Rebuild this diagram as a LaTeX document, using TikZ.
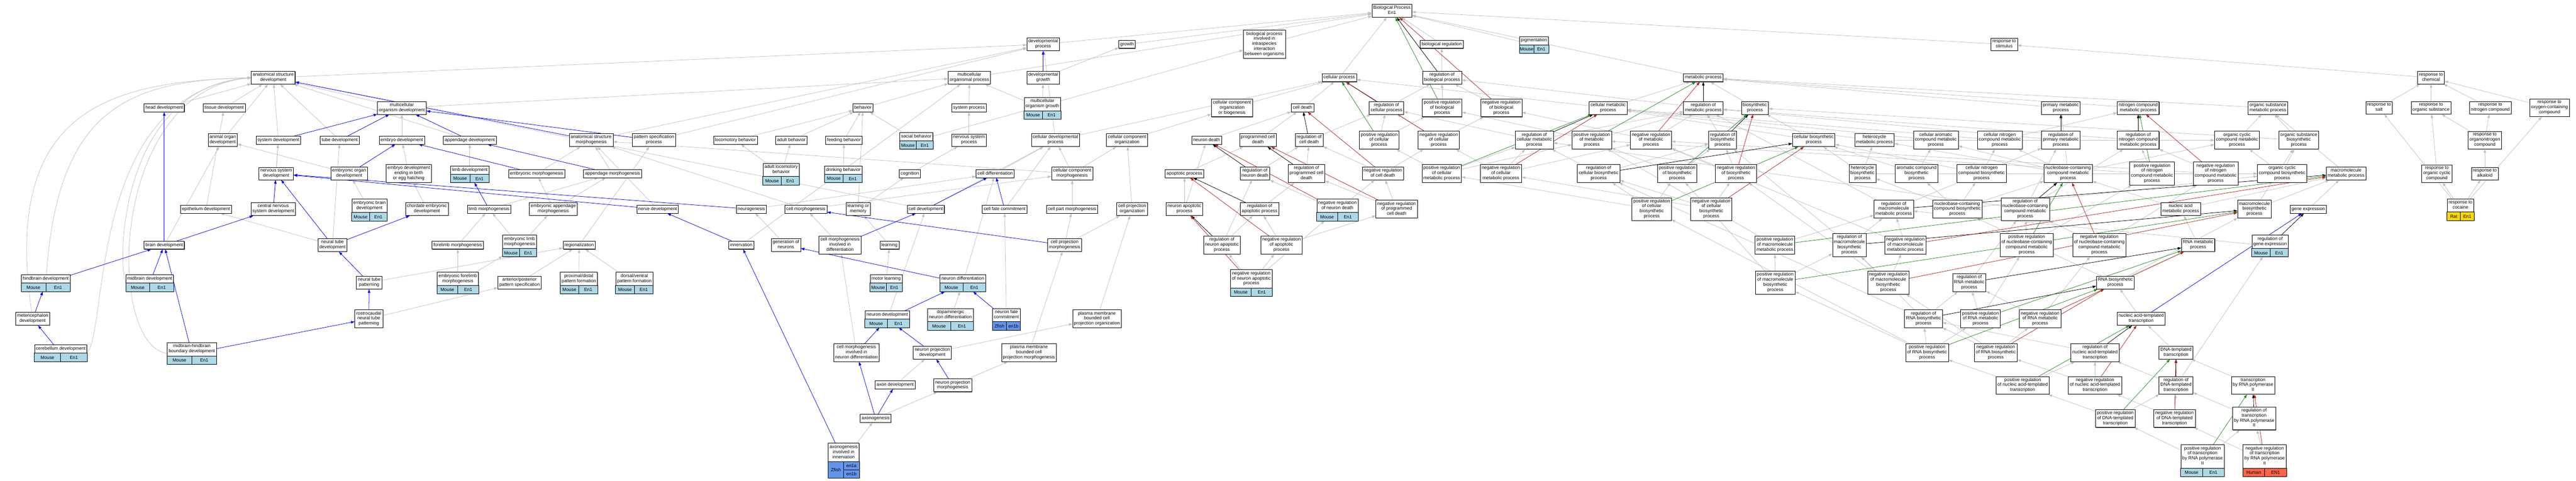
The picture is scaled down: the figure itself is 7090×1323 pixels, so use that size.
\documentclass[tikz,border=0pt]{standalone}
\usepackage{fontspec}
\setmainfont{Liberation Sans}
\usetikzlibrary{arrows.meta,shapes.multipart,shadows,calc}
\pgfdeclarelayer{background}
\pgfsetlayers{background,main}

\definecolor{isagray}{HTML}{C0C0C0}
\definecolor{mouseblue}{HTML}{ADD8E6}
\definecolor{fishblue}{HTML}{6495ED}
\definecolor{humanred}{HTML}{FF6347}
\definecolor{ratgold}{HTML}{FFD700}
\definecolor{posgreen}{HTML}{228B22}
\definecolor{negred}{HTML}{B22222}

\tikzset{
  term/.style={draw=black, fill=white, line width=1pt, align=center,
    font=\fontsize{12.5}{14}\selectfont, inner xsep=4pt, inner ysep=4pt,
    execute at begin node=\strut, execute at end node=\strut,
    drop shadow={shadow xshift=1pt, shadow yshift=-1.2pt, fill=black!65, opacity=1}},
  gterm/.style={term, rectangle split, rectangle split parts=2, anchor=north},
  generow/.style={draw=black, line width=1pt},
  genelabel/.style={font=\fontsize{12.5}{14}\selectfont, inner sep=0pt},
  isa/.style={color=isagray, line width=1.1pt, -{Triangle[length=10pt,width=7pt]}},
  partof/.style={isa, color=blue},
  reg/.style={isa, color=black},
  posreg/.style={isa, color=posgreen},
  negreg/.style={isa, color=negred}
}

\newcommand{\gene}[4][mouseblue]{%
  \filldraw[generow, fill=#1] (#2.text split west) rectangle (#2.south east);
  \draw[generow] (#2.text split) -- (#2.south);
  \node[genelabel] (#2-sp) at ($(#2.south west)!0.25!(#2.south east)+(0,-11)$) {#3};
  \node[genelabel] (#2-gn) at ($(#2.south west)!0.75!(#2.south east)+(0,-11)$) {#4};
}

\begin{document}
\begin{tikzpicture}[x=1pt,y=-1pt]
\useasboundingbox (0,0) rectangle (7090,1323);

\node[term] (root) at (3831,30) {Biological Process\\En1};
\node[term] (devproc) at (2871,122) {developmental\\process};
\node[term] (growth) at (3102,122) {growth};
\node[term] (bpintra) at (3480,122) {biological process\\involved in\\intraspecies\\interaction\\between organisms};
\node[term] (bioreg) at (3968,122) {biological regulation};
\node[gterm] (pigmentation) at (4222,100) {pigmentation\strut\nodepart{two}};
\gene{pigmentation}{Mouse}{En1}
\node[term] (respstim) at (5516,122) {response to\\stimulus};

\node[term] (astdev) at (752,214) {anatomical structure\\development};
\node[term] (mop) at (2668,214) {multicellular\\organismal process};
\node[term] (devgrowth) at (2871,214) {developmental\\growth};
\node[term] (cellproc) at (3686,214) {cellular process};
\node[term] (regbio) at (3969,214) {regulation of\\biological process};
\node[term] (metab) at (4688,214) {metabolic process};
\node[term] (respchem) at (6691,214) {response to\\chemical};

\node[term] (headdev) at (452,297) {head development};
\node[term] (tissuedev) at (617,297) {tissue development};
\node[term] (multidev) at (1106,297) {multicellular\\organism development};
\node[term] (behavior) at (2375,297) {behavior};
\node[term] (sysproc) at (2667,297) {system process};
\node[gterm] (mogrowth) at (2869,268) {multicellular\\organism growth\strut\nodepart{two}};
\gene{mogrowth}{Mouse}{En1}
\node[term] (ccob) at (3391,297) {cellular component\\organization\\or biogenesis};
\node[term] (celldeath) at (3585,297) {cell death};
\node[term] (regcellproc) at (3816,297) {regulation of\\cellular process};
\node[term] (posregbio) at (3969,297) {positive regulation\\of biological\\process};
\node[term] (negregbio) at (4132,297) {negative regulation\\of biological\\process};
\node[term] (cellmetab) at (4426,297) {cellular metabolic\\process};
\node[term] (regmetab) at (4688,297) {regulation of\\metabolic process};
\node[term] (biosyn) at (4830,297) {biosynthetic\\process};
\node[term] (primmetab) at (5672,297) {primary metabolic\\process};
\node[term] (nitrogenmetab) at (5885,297) {nitrogen compound\\metabolic process};
\node[term] (orgsubmet) at (6242,297) {organic substance\\metabolic process};
\node[term] (respsalt) at (6548,297) {response to\\salt};
\node[term] (resporgsub) at (6691,297) {response to\\organic substance};
\node[term] (respnitro) at (6854,297) {response to\\nitrogen compound};
\node[term] (respoxy) at (7017,297) {response to\\oxygen-containing\\compound};

\node[term] (animalorgan) at (613,386) {animal organ\\development};
\node[term] (sysdev) at (766,386) {system development};
\node[term] (tubedev) at (935,386) {tube development};
\node[term] (embryodev) at (1106,386) {embryo development};
\node[term] (appdev) at (1293,386) {appendage development};
\node[term] (asmorph) at (1627,386) {anatomical structure\\morphogenesis};
\node[term] (patspec) at (1800,386) {pattern specification\\process};
\node[term] (locomotory) at (2024,386) {locomotory behavior};
\node[term] (adultbeh) at (2178,386) {adult behavior};
\node[term] (feeding) at (2323,386) {feeding behavior};
\node[gterm] (socialbeh) at (2522,364) {social behavior\strut\nodepart{two}};
\gene{socialbeh}{Mouse}{En1}
\node[term] (nsproc) at (2667,386) {nervous system\\process};
\node[term] (celldevproc) at (2905,386) {cellular developmental\\process};
\node[term] (ccorg) at (3102,386) {cellular component\\organization};
\node[term] (neurondeath) at (3321,386) {neuron death};
\node[term] (pcd) at (3462,386) {programmed cell\\death};
\node[term] (regcelldeath) at (3603,386) {regulation of\\cell death};
\node[term] (posregcellproc) at (3796,386) {positive regulation\\of cellular\\process};
\node[term] (negregcellproc) at (3960,386) {negative regulation\\of cellular\\process};
\node[term] (regcellmetab) at (4223,386) {regulation of\\cellular metabolic\\process};
\node[term] (posregmetab) at (4381,386) {positive regulation\\of metabolic\\process};
\node[term] (negregmetab) at (4544,386) {negative regulation\\of metabolic\\process};
\node[term] (regbiosyn) at (4741,386) {regulation of\\biosynthetic\\process};
\node[term] (cellbiosyn) at (4992,386) {cellular biosynthetic\\process};
\node[term] (heteromet) at (5159,386) {heterocycle\\metabolic process};
\node[term] (cellarom) at (5328,386) {cellular aromatic\\compound metabolic\\process};
\node[term] (cellnitro) at (5504,386) {cellular nitrogen\\compound metabolic\\process};
\node[term] (regprim) at (5672,386) {regulation of\\primary metabolic\\process};
\node[term] (regnitro) at (5885,386) {regulation of\\nitrogen compound\\metabolic process};
\node[term] (orgcycmet) at (6157,386) {organic cyclic\\compound metabolic\\process};
\node[term] (orgsubbiosyn) at (6327,386) {organic substance\\biosynthetic\\process};
\node[term] (resporganonitro) at (6839,386) {response to\\organonitrogen\\compound};

\node[term] (nsdev) at (760,478) {nervous system\\development};
\node[term] (embryonicorgan) at (961,478) {embryonic organ\\development};
\node[term] (embryobirth) at (1125,478) {embryo development\\ending in birth\\or egg hatching};
\node[gterm] (limbdev) at (1293,456) {limb development\strut\nodepart{two}};
\gene{limbdev}{Mouse}{En1}
\node[term] (embmorph) at (1477,478) {embryonic morphogenesis};
\node[term] (appmorph) at (1686,478) {appendage morphogenesis};
\node[gterm] (adultloco) at (2150,449) {adult locomotory\\behavior\strut\nodepart{two}};
\gene{adultloco}{Mouse}{En1}
\node[gterm] (drinking) at (2321,456) {drinking behavior\strut\nodepart{two}};
\gene{drinking}{Mouse}{En1}
\node[term] (cognition) at (2504,478) {cognition};
\node[term] (celldiff) at (2739,478) {cell differentiation};
\node[term] (ccmorph) at (2951,478) {cellular component\\morphogenesis};
\node[term] (apoptotic) at (3260,478) {apoptotic process};
\node[term] (regneurondeath) at (3454,478) {regulation of\\neuron death};
\node[term] (regpcd) at (3596,478) {regulation of\\programmed cell\\death};
\node[term] (negregcelldeath) at (3806,478) {negative regulation\\of cell death};
\node[term] (posregcellmetab) at (3968,478) {positive regulation\\of cellular\\metabolic process};
\node[term] (negregcellmetab) at (4131,478) {negative regulation\\of cellular\\metabolic process};
\node[term] (regcellbiosyn) at (4400,478) {regulation of\\cellular biosynthetic\\process};
\node[term] (posregbiosyn) at (4616,478) {positive regulation\\of biosynthetic\\process};
\node[term] (negregbiosyn) at (4778,478) {negative regulation\\of biosynthetic\\process};
\node[term] (heterobiosyn) at (5126,478) {heterocycle\\biosynthetic\\process};
\node[term] (arombiosyn) at (5275,478) {aromatic compound\\biosynthetic\\process};
\node[term] (cellnitrobiosyn) at (5454,478) {cellular nitrogen\\compound biosynthetic\\process};
\node[term] (nucmetab) at (5692,478) {nucleobase-containing\\compound metabolic\\process};
\node[term] (posregnitro) at (5923,478) {positive regulation\\of nitrogen\\compound metabolic\\process};
\node[term] (negregnitro) at (6098,478) {negative regulation\\of nitrogen\\compound metabolic\\process};
\node[term] (orgcycbiosyn) at (6281,478) {organic cyclic\\compound biosynthetic\\process};
\node[term] (macromet) at (6457,478) {macromolecule\\metabolic process};
\node[term] (resporgcyc) at (6707,478) {response to\\organic cyclic\\compound};
\node[term] (respalkaloid) at (6839,478) {response to\\alkaloid};

\node[term] (epithdev) at (567,576) {epithelium development};
\node[term] (cnsdev) at (752,576) {central nervous\\system development};
\node[gterm] (embbrain) at (1017,548) {embryonic brain\\development\strut\nodepart{two}};
\gene{embbrain}{Mouse}{En1}
\node[term] (chordate) at (1175,576) {chordate embryonic\\development};
\node[term] (limbmorph) at (1346,576) {limb morphogenesis};
\node[term] (embappmorph) at (1523,576) {embryonic appendage\\morphogenesis};
\node[term] (nervedev) at (1810,576) {nerve development};
\node[term] (neurogenesis) at (2068,576) {neurogenesis};
\node[term] (cellmorph) at (2218,576) {cell morphogenesis};
\node[term] (learnmem) at (2362,576) {learning or\\memory};
\node[term] (celldev) at (2548,576) {cell development};
\node[term] (cellfate) at (2765,576) {cell fate commitment};
\node[term] (cellpartmorph) at (2951,576) {cell part morphogenesis};
\node[term] (cellprojorg) at (3116,576) {cell projection\\organization};
\node[term] (neuronapop) at (3260,576) {neuron apoptotic\\process};
\node[term] (regapop) at (3467,576) {regulation of\\apoptotic process};
\node[gterm] (negregneurondeath) at (3681,548) {negative regulation\\of neuron death\strut\nodepart{two}};
\gene{negregneurondeath}{Mouse}{En1}
\node[term] (negregpcd) at (3844,576) {negative regulation\\of programmed\\cell death};
\node[term] (posregcellbiosyn) at (4546,576) {positive regulation\\of cellular\\biosynthetic\\process};
\node[term] (negregcellbiosyn) at (4710,576) {negative regulation\\of cellular\\biosynthetic\\process};
\node[term] (regmacromet) at (5212,576) {regulation of\\macromolecule\\metabolic process};
\node[term] (nucbiosyn) at (5387,576) {nucleobase-containing\\compound biosynthetic\\process};
\node[term] (regnucmet) at (5574,576) {regulation of\\nucleobase-containing\\compound metabolic\\process};
\node[term] (nucacidmet) at (6002,576) {nucleic acid\\metabolic process};
\node[term] (macrobiosyn) at (6205,576) {macromolecule\\biosynthetic\\process};
\node[term] (geneexpr) at (6353,576) {gene expression};
\node[gterm] (respcocaine) at (6772,548) {response to\\cocaine\strut\nodepart{two}};
\gene[ratgold]{respcocaine}{Rat}{En1}

\node[term] (braindev) at (452,675) {brain development};
\node[term] (neuraltubedev) at (915,675) {neural tube\\development};
\node[term] (forelimb) at (1260,675) {forelimb morphogenesis};
\node[gterm] (emblimbmorph) at (1430,647) {embryonic limb\\morphogenesis\strut\nodepart{two}};
\gene{emblimbmorph}{Mouse}{En1}
\node[term] (regionalization) at (1594,675) {regionalization};
\node[term] (innervation) at (2040,675) {innervation};
\node[term] (genneurons) at (2163,675) {generation of\\neurons};
\node[term] (cellmorphdiff) at (2312,675) {cell morphogenesis\\involved in\\differentiation};
\node[term] (learning) at (2448,675) {learning};
\node[term] (cellprojmorph) at (2930,675) {cell projection\\morphogenesis};
\node[term] (regneuronapop) at (3363,675) {regulation of\\neuron apoptotic\\process};
\node[term] (negregapop) at (3527,675) {negative regulation\\of apoptotic\\process};
\node[term] (posregmacromet) at (4885,675) {positive regulation\\of macromolecule\\metabolic process};
\node[term] (regmacrobiosyn) at (5090,675) {regulation of\\macromolecule\\biosynthetic\\process};
\node[term] (negregmacromet) at (5244,675) {negative regulation\\of macromolecule\\metabolic process};
\node[term] (posregnucmet) at (5578,675) {positive regulation\\of nucleobase-containing\\compound metabolic\\process};
\node[term] (negregnucmet) at (5778,675) {negative regulation\\of nucleobase-containing\\compound metabolic\\process};
\node[term] (rnamet) at (6050,675) {RNA metabolic\\process};
\node[gterm] (reggeneexpr) at (6248,647) {regulation of\\gene expression\strut\nodepart{two}};
\gene{reggeneexpr}{Mouse}{En1}

\node[gterm] (hindbrain) at (126,756) {hindbrain development\strut\nodepart{two}};
\gene{hindbrain}{Mouse}{En1}
\node[gterm] (midbrain) at (412,756) {midbrain development\strut\nodepart{two}};
\gene{midbrain}{Mouse}{En1}
\node[term] (ntpattern) at (1016,778) {neural tube\\patterning};
\node[gterm] (embforelimb) at (1260,749) {embryonic forelimb\\morphogenesis\strut\nodepart{two}};
\gene{embforelimb}{Mouse}{En1}
\node[term] (apspec) at (1430,778) {anterior/posterior\\pattern specification};
\node[gterm] (proxdist) at (1593,749) {proximal/distal\\pattern formation\strut\nodepart{two}};
\gene{proxdist}{Mouse}{En1}
\node[gterm] (dorsvent) at (1746,749) {dorsal/ventral\\pattern formation\strut\nodepart{two}};
\gene{dorsvent}{Mouse}{En1}
\node[gterm] (motorlearning) at (2439,756) {motor learning\strut\nodepart{two}};
\gene{motorlearning}{Mouse}{En1}
\node[gterm] (neurondiff) at (2650,756) {neuron differentiation\strut\nodepart{two}};
\gene{neurondiff}{Mouse}{En1}
\node[gterm] (negregneuronapop) at (3444,742) {negative regulation\\of neuron apoptotic\\process\strut\nodepart{two}};
\gene{negregneuronapop}{Mouse}{En1}
\node[term] (posregmacrobiosyn) at (4886,778) {positive regulation\\of macromolecule\\biosynthetic\\process};
\node[term] (negregmacrobiosyn) at (5197,778) {negative regulation\\of macromolecule\\biosynthetic\\process};
\node[term] (regrnamet) at (5420,778) {regulation of\\RNA metabolic\\process};
\node[term] (rnabiosyn) at (5822,778) {RNA biosynthetic\\process};

\node[term] (metenceph) at (90,878) {metencephalon\\development};
\node[term] (rostro) at (1015,878) {rostrocaudal\\neural tube\\patterning};
\node[gterm] (dopamin) at (2616,849) {dopaminergic\\neuron differentiation\strut\nodepart{two}};
\gene{dopamin}{Mouse}{En1}
\node[gterm] (neuronfate) at (2770,849) {neuron fate\\commitment\strut\nodepart{two}};
\gene[fishblue]{neuronfate}{Zfish}{en1b}
\node[gterm] (neurondev) at (2442,855) {neuron development\strut\nodepart{two}};
\gene{neurondev}{Mouse}{En1}
\node[term] (pmbcpo) at (3019,878) {plasma membrane\\bounded cell\\projection organization};
\node[term] (regrnabiosyn) at (5294,878) {regulation of\\RNA biosynthetic\\process};
\node[term] (posregrnamet) at (5451,878) {positive regulation\\of RNA metabolic\\process};
\node[term] (negregrnamet) at (5615,878) {negative regulation\\of RNA metabolic\\process};
\node[term] (nuctrans) at (5893,878) {nucleic acid-templated\\transcription};

\node[gterm] (cerebellum) at (167,949) {cerebellum development\strut\nodepart{two}};
\gene{cerebellum}{Mouse}{En1}
\node[gterm] (mhb) at (528,943) {midbrain-hindbrain\\boundary development\strut\nodepart{two}};
\gene{mhb}{Mouse}{En1}
\node[term] (cmneurondiff) at (2357,971) {cell morphogenesis\\involved in\\neuron differentiation};
\node[term] (neuronprojdev) at (2566,971) {neuron projection\\development};
\node[term] (pmbcpm) at (2832,971) {plasma membrane\\bounded cell\\projection morphogenesis};
\node[term] (posregrnabiosyn) at (5304,971) {positive regulation\\of RNA biosynthetic\\process};
\node[term] (negregrnabiosyn) at (5493,971) {negative regulation\\of RNA biosynthetic\\process};
\node[term] (regnuctrans) at (5766,971) {regulation of\\nucleic acid-templated\\transcription};
\node[term] (dnatrans) at (5989,971) {DNA-templated\\transcription};

\node[term] (axondev) at (2464,1060) {axon development};
\node[term] (neuronprojmorph) at (2622,1061) {neuron projection\\morphogenesis};
\node[term] (posregnuctrans) at (5567,1061) {positive regulation\\of nucleic acid-templated\\transcription};
\node[term] (negregnuctrans) at (5766,1061) {negative regulation\\of nucleic acid-templated\\transcription};
\node[term] (regdnatrans) at (5989,1061) {regulation of\\DNA-templated\\transcription};
\node[term] (transpol2) at (6201,1061) {transcription\\by RNA polymerase\\II};

\node[term] (axonogenesis) at (2410,1152) {axonogenesis};
\node[term] (posregdnatrans) at (5822,1152) {positive regulation\\of DNA-templated\\transcription};
\node[term] (negregdnatrans) at (5985,1152) {negative regulation\\of DNA-templated\\transcription};
\node[term] (regtranspol2) at (6204,1152) {regulation of\\transcription\\by RNA polymerase\\II};

\node[gterm] (axoninnerv) at (2322,1220) {axonogenesis\\involved in\\innervation\strut\nodepart{two}\rule[-4.2pt]{0pt}{36pt}};
\filldraw[generow, fill=fishblue] (axoninnerv.text split west) rectangle (axoninnerv.south east);
\draw[generow] (axoninnerv.text split) -- (axoninnerv.south);
\draw[generow] ($(axoninnerv.south)+(0,-22)$) -- ($(axoninnerv.south east)+(0,-22)$);
\node[genelabel] (axoninnerv-sp) at ($(axoninnerv.south west)!0.25!(axoninnerv.south east)+(0,-22)$) {Zfish};
\node[genelabel] (axoninnerv-ga) at ($(axoninnerv.south west)!0.75!(axoninnerv.south east)+(0,-33)$) {en1a};
\node[genelabel] (axoninnerv-gb) at ($(axoninnerv.south west)!0.75!(axoninnerv.south east)+(0,-11)$) {en1b};
\node[gterm] (posregtranspol2) at (6062,1224) {positive regulation\\of transcription\\by RNA polymerase\\II\strut\nodepart{two}};
\gene{posregtranspol2}{Mouse}{En1}
\node[gterm] (negregtranspol2) at (6233,1224) {negative regulation\\of transcription\\by RNA polymerase\\II\strut\nodepart{two}};
\gene[humanred]{negregtranspol2}{Human}{EN1}

\begin{pgfonlayer}{background}
\path[isa] (devproc) edge (root) (growth) edge (root) (bpintra) edge (root)
  (bioreg) edge (root) (mop) edge (root) (cellproc) edge (root)
  (metab) edge (root) (respstim) edge (root) (pigmentation) edge (root);
\path[isa] (devgrowth) edge (growth)
  (mogrowth) edge (devgrowth) edge (mop)
  (astdev) edge (devproc) (asmorph) edge (devproc) (patspec) edge (devproc)
  (multidev) edge (mop) edge (astdev)
  (behavior) edge (mop) (sysproc) edge (mop) (nsproc) edge (sysproc)
  (cognition) edge (nsproc)
  (socialbeh) edge (behavior) edge (bpintra)
  (locomotory) edge (behavior) (adultbeh) edge (behavior) (feeding) edge (behavior)
  (adultloco) edge (locomotory) edge (adultbeh)
  (drinking) edge (feeding)
  (learnmem) edge (behavior) edge (cognition)
  (learning) edge (learnmem) (motorlearning) edge (learning);
\path[isa] (headdev) edge (astdev) (tissuedev) edge (astdev)
  (animalorgan) edge (astdev) (sysdev) edge (astdev) (tubedev) edge (astdev)
  (appdev) edge (astdev) (celldev) edge (astdev)
  (embryodev) edge (multidev) (embryonicorgan) edge (animalorgan)
  (embryobirth) edge (embryodev) (nsdev) edge (sysdev) (cnsdev) edge (sysdev)
  (epithdev) edge (tissuedev) (braindev) edge (animalorgan)
  (neuraltubedev) edge (epithdev) edge (tubedev)
  (embbrain) edge (embryonicorgan) (chordate) edge (embryobirth);
\draw[isa] (metenceph) .. controls (5,300) and (300,225) .. (astdev.west);
\draw[isa] (hindbrain) .. controls (160,300) and (350,222) .. (astdev.west);
\draw[isa] (cerebellum.east) .. controls (300,900) and (240,260) .. (astdev.west);
\draw[isa] (mhb.west) .. controls (290,950) and (300,250) .. (astdev.west);
\draw[isa] (midbrain.west) .. controls (320,700) and (340,240) .. (astdev.west);
\path[isa] (limbdev) edge (appdev) (embmorph) edge (asmorph) (appmorph) edge (asmorph)
  (embappmorph) edge (embmorph) edge (appmorph)
  (limbmorph) edge (appmorph) (forelimb) edge (limbmorph)
  (emblimbmorph) edge (limbmorph) edge (embappmorph)
  (embforelimb) edge (forelimb) edge (emblimbmorph)
  (regionalization) edge (patspec) (apspec) edge (regionalization)
  (proxdist) edge (regionalization) (dorsvent) edge (regionalization)
  (ntpattern) edge (regionalization) (rostro) edge (apspec)
  (nervedev) edge (asmorph) (cellmorph) edge (asmorph) edge (ccmorph)
  (ccmorph) edge (asmorph) edge (celldevproc) edge (ccorg)
  (genneurons) edge (neurogenesis) (neurogenesis) edge (celldiff)
  (innervation) edge (mop) (cellmorphdiff) edge (cellmorph)
  (cmneurondiff) edge (cellmorphdiff);
\path[isa] (celldevproc) edge (devproc) edge (cellproc)
  (ccob) edge (cellproc) (ccorg) edge (ccob) (celldeath) edge (cellproc)
  (neurondeath) edge (celldeath) (pcd) edge (celldeath)
  (celldiff) edge (celldevproc) (celldev) edge (celldevproc) (cellfate) edge (celldevproc)
  (cellpartmorph) edge (ccmorph) (cellprojorg) edge (ccorg)
  (apoptotic) edge (pcd) (neuronapop) edge (apoptotic) edge (neurondeath)
  (regneurondeath) edge (regcelldeath) (regpcd) edge (regcelldeath)
  (regapop) edge (regpcd)
  (regneuronapop) edge (regneurondeath) edge (regapop)
  (negregapop) edge (regapop) edge (negregpcd)
  (negregneuronapop) edge (regneuronapop) edge (negregapop) edge (negregneurondeath)
  (neurondiff) edge (celldiff) (neurondev) edge (celldev)
  (dopamin) edge (neurondiff) (neuronfate) edge (cellfate)
  (neuronprojdev) edge (pmbcpo) (pmbcpo) edge (cellprojorg)
  (pmbcpm) edge (cellprojmorph)
  (cellprojmorph) edge (cellpartmorph) edge (cellprojorg)
  (axondev) edge (neuronprojdev) (neuronprojmorph) edge (pmbcpm)
  (axonogenesis) edge (neuronprojmorph) (axoninnerv) edge (axonogenesis);
\path[isa] (regbio) edge (bioreg) (regcellproc) edge (regbio)
  (posregbio) edge (regbio) (negregbio) edge (regbio)
  (posregcellproc) edge (regcellproc) edge (posregbio)
  (negregcellproc) edge (regcellproc) edge (negregbio)
  (regcelldeath) edge (regcellproc)
  (negregcelldeath) edge (regcelldeath) edge (negregcellproc)
  (negregpcd) edge (negregcelldeath) edge (regpcd)
  (negregneurondeath) edge (regneurondeath) edge (negregcelldeath)
  (regcellmetab) edge (regcellproc) edge (regmetab)
  (posregcellmetab) edge (posregcellproc) edge (regcellmetab) edge (posregmetab)
  (negregcellmetab) edge (negregcellproc) edge (regcellmetab) edge (negregmetab)
  (regmetab) edge (regbio)
  (posregmetab) edge (regmetab) edge (posregbio)
  (negregmetab) edge (regmetab) edge (negregbio)
  (cellmetab) edge (metab) edge (cellproc)
  (regbiosyn) edge (regmetab)
  (posregbiosyn) edge (regbiosyn) edge (posregmetab)
  (negregbiosyn) edge (regbiosyn) edge (negregmetab)
  (regcellbiosyn) edge (regcellmetab) edge (regbiosyn)
  (posregcellbiosyn) edge (regcellbiosyn) edge (posregcellmetab) edge (posregbiosyn)
  (negregcellbiosyn) edge (regcellbiosyn) edge (negregcellmetab) edge (negregbiosyn);
\path[isa] (biosyn) edge (metab) (primmetab) edge (metab)
  (nitrogenmetab) edge (metab) (orgsubmet) edge (metab)
  (cellbiosyn) edge (biosyn) edge (cellmetab)
  (heteromet) edge (cellmetab) edge (orgcycmet)
  (cellarom) edge (cellmetab) (cellnitro) edge (cellmetab) edge (nitrogenmetab)
  (regprim) edge (regmetab) (regnitro) edge (regmetab)
  (heterobiosyn) edge (heteromet) edge (cellbiosyn) edge (orgcycbiosyn)
  (arombiosyn) edge (cellarom) edge (cellbiosyn)
  (cellnitrobiosyn) edge (cellnitro) edge (cellbiosyn)
  (nucmetab) edge (heteromet) edge (cellarom) edge (cellnitro) edge (orgcycmet) edge (primmetab)
  (posregnitro) edge (regnitro) edge (posregmetab)
  (negregnitro) edge (regnitro) edge (negregmetab)
  (regmacromet) edge (regprim) edge (regmetab)
  (nucbiosyn) edge (nucmetab) edge (heterobiosyn) edge (arombiosyn) edge (cellnitrobiosyn) edge (orgcycbiosyn)
  (regnucmet) edge (regprim) edge (regnitro) edge (regcellmetab)
  (posregmacromet) edge (regmacromet) edge (posregmetab)
  (regmacrobiosyn) edge (regmacromet) edge (regbiosyn)
  (negregmacromet) edge (regmacromet) edge (negregmetab)
  (posregnucmet) edge (regnucmet) edge (posregnitro)
  (negregnucmet) edge (regnucmet) edge (negregnitro);
\path[isa] (posregmacrobiosyn) edge (posregmacromet) edge (regmacrobiosyn) edge (posregbiosyn)
  (negregmacrobiosyn) edge (regmacrobiosyn) edge (negregmacromet) edge (negregbiosyn)
  (regrnamet) edge (regnucmet)
  (rnabiosyn) edge (rnamet) edge (nucbiosyn) edge (macrobiosyn)
  (regrnabiosyn) edge (regrnamet) edge (regmacrobiosyn) edge (regcellbiosyn)
  (posregrnamet) edge (regrnamet) edge (posregnucmet)
  (negregrnamet) edge (regrnamet) edge (negregnucmet)
  (nuctrans) edge (rnabiosyn)
  (posregrnabiosyn) edge (regrnabiosyn) edge (posregrnamet) edge (posregmacrobiosyn) edge (posregcellbiosyn)
  (negregrnabiosyn) edge (regrnabiosyn) edge (negregrnamet) edge (negregmacrobiosyn)
  (regnuctrans) edge (regrnabiosyn)
  (posregnuctrans) edge (regnuctrans) edge (posregrnabiosyn)
  (negregnuctrans) edge (regnuctrans) edge (negregrnabiosyn)
  (posregdnatrans) edge (posregnuctrans) edge (regdnatrans)
  (dnatrans) edge (nuctrans)
  (regdnatrans) edge (regnuctrans) edge (reggeneexpr)
  (transpol2) edge (dnatrans)
  (negregdnatrans) edge (regdnatrans) edge (negregnuctrans)
  (regtranspol2) edge (regdnatrans)
  (posregtranspol2) edge (regtranspol2) edge (posregdnatrans)
  (negregtranspol2) edge (regtranspol2) edge (negregdnatrans)
  (reggeneexpr) edge (regmacromet) (geneexpr) edge (macromet)
  (rnamet) edge (nucacidmet) (nucacidmet) edge (nucmetab) edge (macromet)
  (macrobiosyn) edge (macromet) edge (orgsubbiosyn)
  (macromet) edge (orgsubmet) (orgcycmet) edge (orgsubmet)
  (orgsubbiosyn) edge (orgsubmet) edge (biosyn)
  (orgcycbiosyn) edge (orgcycmet) edge (orgsubbiosyn);
\path[isa] (respchem) edge (respstim)
  (respsalt) edge (respchem) (resporgsub) edge (respchem)
  (respnitro) edge (respchem) (respoxy) edge (respchem)
  (resporganonitro) edge (resporgsub) edge (respnitro)
  (resporgcyc) edge (resporgsub) (respalkaloid) edge (resporganonitro)
  (respcocaine) edge (respsalt) edge (resporgcyc) edge (respalkaloid) edge (respoxy);
\path[partof] (devgrowth) edge (devproc)
  (sysdev) edge (multidev) (tubedev) edge (multidev)
  (patspec) edge (multidev) (appdev) edge (multidev)
  (asmorph) edge (astdev)
  (embryonicorgan) edge (embryodev) (embmorph) edge (embryodev)
  (cnsdev) edge (nsdev) (neuraltubedev) edge (nsdev) edge (chordate)
  (neurogenesis) edge (nsdev) (nervedev) edge (nsdev)
  (braindev) edge (cnsdev) edge (headdev)
  (hindbrain) edge (braindev) (midbrain) edge (braindev) (mhb) edge (braindev)
  (metenceph) edge (hindbrain) (cerebellum) edge (metenceph)
  (ntpattern) edge (neuraltubedev) (rostro) edge (ntpattern) (mhb) edge (rostro)
  (appmorph) edge (appdev) (limbmorph) edge (limbdev)
  (innervation) edge (nervedev) (cellprojmorph) edge (cellmorph)
  (cellmorphdiff) edge (celldev)
  (celldev) edge (celldiff) (cellfate) edge (celldiff)
  (neurondiff) edge (genneurons)
  (neurondev) edge (neurondiff) (neuronfate) edge (neurondiff)
  (neuronprojdev) edge (neurondev) (neuronprojmorph) edge (neuronprojdev)
  (axonogenesis) edge (axondev) edge (cmneurondiff)
  (cmneurondiff) edge (neurondev)
  (axoninnerv) edge (innervation)
  (nuctrans) edge (geneexpr);
\path[reg] (regbio) edge (root) (regcellproc) edge (cellproc)
  (regcelldeath) edge (celldeath) (regneurondeath) edge (neurondeath)
  (regpcd) edge (pcd) (regapop) edge (apoptotic)
  (regneuronapop) edge (neuronapop) (regcellmetab) edge (cellmetab)
  (regmetab) edge (metab) (regbiosyn) edge (biosyn)
  (regcellbiosyn) edge (cellbiosyn) (regprim) edge (primmetab)
  (regnitro) edge (nitrogenmetab) (regmacromet) edge (macromet)
  (regnucmet) edge (nucmetab) (regmacrobiosyn) edge (macrobiosyn)
  (regrnamet) edge (rnamet) (regrnabiosyn) edge (rnabiosyn)
  (regnuctrans) edge (nuctrans) (regdnatrans) edge (dnatrans)
  (regtranspol2) edge (transpol2) (reggeneexpr) edge (geneexpr);
\path[posreg] (posregbio) edge (root) (posregcellproc) edge (cellproc)
  (posregcellmetab) edge (cellmetab) (posregmetab) edge (metab)
  (posregbiosyn) edge (biosyn) (posregcellbiosyn) edge (cellbiosyn)
  (posregnitro) edge (nitrogenmetab) (posregmacromet) edge (macromet)
  (posregnucmet) edge (nucmetab) (posregmacrobiosyn) edge (macrobiosyn)
  (posregrnamet) edge (rnamet) (posregrnabiosyn) edge (rnabiosyn)
  (posregnuctrans) edge (nuctrans) (posregdnatrans) edge (dnatrans)
  (posregtranspol2) edge (transpol2);
\path[negreg] (negregbio) edge (root) (negregcellproc) edge (cellproc)
  (negregcelldeath) edge (celldeath) (negregneurondeath) edge (neurondeath)
  (negregpcd) edge (pcd) (negregapop) edge (apoptotic)
  (negregneuronapop) edge (neuronapop) (negregcellmetab) edge (cellmetab)
  (negregmetab) edge (metab) (negregbiosyn) edge (biosyn)
  (negregcellbiosyn) edge (cellbiosyn) (negregnitro) edge (nitrogenmetab)
  (negregmacromet) edge (macromet) (negregnucmet) edge (nucmetab)
  (negregmacrobiosyn) edge (macrobiosyn) (negregrnamet) edge (rnamet)
  (negregrnabiosyn) edge (rnabiosyn) (negregnuctrans) edge (nuctrans)
  (negregdnatrans) edge (dnatrans) (negregtranspol2) edge (transpol2);
\end{pgfonlayer}
\end{tikzpicture}
\end{document}
